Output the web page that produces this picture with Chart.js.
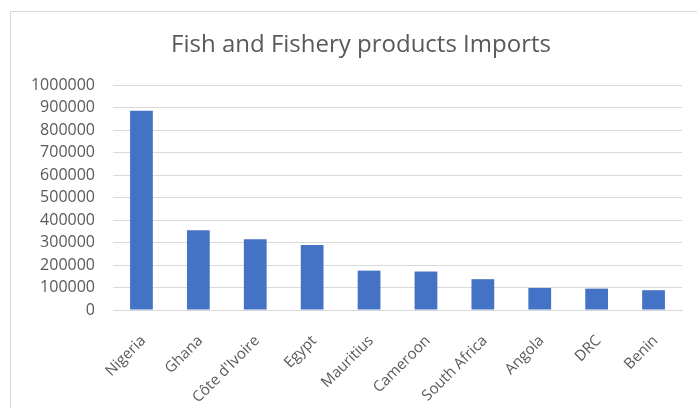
<!DOCTYPE html>
<html>
<head>
<meta charset="utf-8">
<script src="https://cdn.jsdelivr.net/npm/chart.js@4.4.4/dist/chart.umd.min.js"></script>
<style>
  html, body { margin: 0; padding: 0; background: #fff; }
  #wrap { position: relative; width: 697px; height: 408px; overflow: hidden; }
  #frame { position: absolute; left: 10px; top: 11px; width: 720px; height: 420px;
           border: 1px solid #d9d9d9; box-sizing: border-box; }
  canvas { position: absolute; left: 0; top: 0; }
</style>
</head>
<body>
<div id="wrap">
  <div id="frame"></div>
  <canvas id="chart" width="697" height="408"></canvas>
</div>
<script>
// Fish and fishery products imports, by country
var countries = ['Nigeria', 'Ghana', "Côte d'Ivoire", 'Egypt', 'Mauritius',
  'Cameroon', 'South Africa', 'Angola', 'DRC', 'Benin'];
var imports = [886000, 355000, 314000, 289000, 175000,
  171000, 137000, 98000, 95000, 88000];
var yTicks = [0, 100000, 200000, 300000, 400000, 500000,
  600000, 700000, 800000, 900000, 1000000];

var textColor = '#595959';
var gridColor = '#d9d9d9';
var font = 'Open Sans';

// title sits centred over the frame, not the padded canvas
var shiftTitle = {
  id: 'shiftTitle',
  afterLayout: function (chart) {
    if (chart.titleBlock) chart.titleBlock.left = 40;
  }
};

new Chart(document.getElementById('chart'), {
  type: 'bar',
  data: {
    labels: countries,
    datasets: [{
      data: imports,
      backgroundColor: '#4472c4',
      borderWidth: 0,
      categoryPercentage: 1,
      barPercentage: 0.4
    }]
  },
  plugins: [shiftTitle],
  options: {
    responsive: false,
    animation: false,
    devicePixelRatio: 1,
    layout: { padding: { left: 0, right: 15, top: 0, bottom: 0 } },
    plugins: {
      legend: { display: false },
      tooltip: { enabled: false },
      title: {
        display: true,
        text: 'Fish and Fishery products Imports',
        color: textColor,
        font: { family: font, size: 24, weight: 'normal', lineHeight: 1.2 },
        padding: { top: 31, bottom: 25.2 }
      }
    },
    scales: {
      x: {
        grid: { display: false, drawTicks: false },
        border: { color: gridColor },
        ticks: {
          color: textColor,
          font: { family: font, size: 15 },
          minRotation: 45,
          maxRotation: 45,
          padding: 22,
          labelOffset: 2
        },
        afterFit: function (scale) { scale.height = 98; }
      },
      y: {
        min: 0,
        max: 1000000,
        afterBuildTicks: function (scale) {
          scale.ticks = yTicks.map(function (v) { return { value: v }; });
        },
        grid: { color: gridColor, drawTicks: false },
        border: { display: false },
        ticks: {
          color: textColor,
          font: { family: font, size: 16 },
          padding: 18,
          callback: function (v) { return String(v); }
        },
        afterFit: function (scale) { scale.width = 113; }
      }
    }
  }
});
</script>
</body>
</html>
